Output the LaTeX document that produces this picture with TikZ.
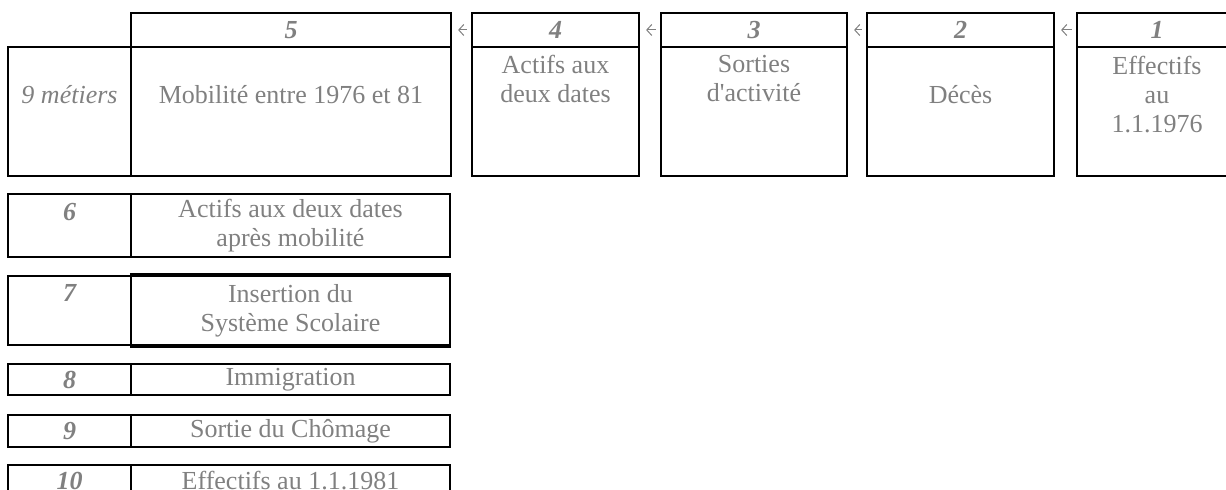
\documentclass[tikz,border=0pt]{standalone}
\usepackage{fontspec}
\setmainfont{Liberation Serif}
\usetikzlibrary{arrows.meta}
\definecolor{txtgray}{HTML}{808080}
\newcommand{\diafont}{\fontsize{13}{14.5}\selectfont}
\tikzset{
  cell/.style = {draw, rectangle, line width=1.1pt, inner sep=0pt},
  head/.style = {cell, minimum height=17pt, text=txtgray,
                 font=\diafont\bfseries\itshape},
  body/.style = {cell, minimum height=64.5pt},
  lab/.style  = {text=txtgray, align=center, inner sep=0pt, font=\diafont},
  num/.style  = {cell, minimum width=61.5pt, text=txtgray,
                 font=\diafont\bfseries\itshape},
  row/.style  = {cell, minimum width=159.5pt, text=txtgray, align=center,
                 font=\diafont},
  flow/.style = {-{Straight Barb[length=2.5pt,width=5.5pt]}, txtgray,
                 line width=0.5pt, shorten <=2pt, shorten >=3pt}
}

\begin{document}
\begin{tikzpicture}[x=0.5pt, y=-0.5pt]
\useasboundingbox (0,0) rectangle (1226,490);

% en-tetes des etapes
\node[head, minimum width=160pt]  (h5) at (291,30)    {5};
\node[head, minimum width=83.5pt] (h4) at (555.5,30)  {4};
\node[head, minimum width=93pt]   (h3) at (754,30)    {3};
\node[head, minimum width=93.5pt] (h2) at (960.5,30)  {2};
\node[head, minimum width=80pt]   (h1) at (1157,30)   {1};

% cases sous les en-tetes
\node[body, minimum width=61.5pt] (b0) at (69.5,111.5)  {};
\node[body, minimum width=160pt]  (b5) at (291,111.5)   {};
\node[body, minimum width=83.5pt] (b4) at (555.5,111.5) {};
\node[body, minimum width=93pt]   (b3) at (754,111.5)   {};
\node[body, minimum width=93.5pt] (b2) at (960.5,111.5) {};
\node[body, minimum width=80pt]   (b1) at (1157,111.5)  {};

\begin{scope}[every node/.style={lab}]
\node[font=\diafont\itshape] (t0) at (69.5,95) {9 métiers};
\node (t5) at (291,95)    {Mobilité entre 1976 et 81};
\node (t4) at (555.5,79)  {Actifs aux\\deux dates};
\node (t3) at (754,79)    {Sorties\\d\textquotesingle activité};
\node (t2) at (960.5,95)  {Décès};
\node (t1) at (1157,95)   {Effectifs\\au\\1.1.1976};
\end{scope}

% les lignes du bas
\node[num, minimum height=31.5pt, text height=13.5pt, text depth=18pt] (n6) at (69.5,225.5) {6};
\node[row, minimum height=31.5pt] (r6) at (290.5,225.5) {Actifs aux deux dates\\après mobilité};

\node[num, minimum height=34.5pt, text height=13pt, text depth=21.5pt] (n7) at (69.5,310.5) {7};
\node[row, minimum height=34.5pt] (r7) at (290.5,310.5) {Insertion du\\Système Scolaire};

\node[num, minimum height=15.5pt] (n8) at (69.5,379.5) {8};
\node[row, minimum height=15.5pt] (r8) at (290.5,379.5) {Immigration};

\node[num, minimum height=16pt] (n9) at (69.5,431) {9};
\node[row, minimum height=16pt] (r9) at (290.5,431) {Sortie du Chômage};

\node[num, minimum height=16pt] (n10) at (69.5,481) {10};
\node[row, minimum height=16pt] (r10) at (290.5,481) {Effectifs au 1.1.1981};

\draw[line width=2pt] (r7.north west) -- (r7.north east)
                      (r7.south west) -- (r7.south east);

\foreach \from/\to in {h4/h5, h3/h4, h2/h3, h1/h2}
  \draw[flow] (\from) -- (\to);

\end{tikzpicture}
\end{document}
